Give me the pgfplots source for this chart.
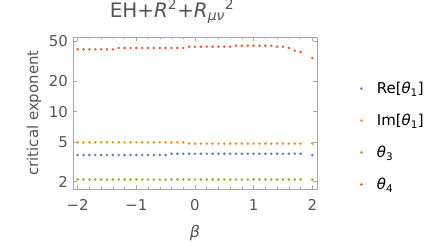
\documentclass[border=0pt]{standalone}
\usepackage{fontspec}
\setmainfont{DejaVu Sans}
\usepackage{pgfplots}
\pgfplotsset{compat=1.18}
\usepackage{pgfplotstable}
\definecolor{c1}{HTML}{5E81B5}
\definecolor{c2}{HTML}{E19C24}
\definecolor{c3}{HTML}{8FB032}
\definecolor{c4}{HTML}{EB6235}
\definecolor{framec}{HTML}{A8A8A8}
\definecolor{txt}{HTML}{555555}

\pgfplotstableread{
b re im t3 t4
-2.0 3.69 4.93 2.1 41.8
-1.9 3.69 4.93 2.1 41.8
-1.8 3.69 4.93 2.1 41.8
-1.7 3.69 4.93 2.1 41.8
-1.6 3.69 4.93 2.1 41.8
-1.5 3.69 4.93 2.1 41.8
-1.4 3.69 4.93 2.1 41.8
-1.3 3.69 4.93 2.1 43.1
-1.2 3.69 4.93 2.1 43.1
-1.1 3.69 4.93 2.1 43.1
-1.0 3.69 4.93 2.1 43.1
-0.9 3.69 4.93 2.1 43.1
-0.8 3.69 4.93 2.1 43.1
-0.7 3.69 4.93 2.1 43.1
-0.6 3.69 4.93 2.1 43.1
-0.5 3.69 4.93 2.1 43.1
-0.4 3.80 4.93 2.1 43.1
-0.3 3.80 4.93 2.1 43.1
-0.2 3.80 4.93 2.1 43.1
-0.1 3.80 4.80 2.1 44.4
0.0 3.80 4.80 2.1 44.4
0.1 3.80 4.80 2.1 44.4
0.2 3.80 4.80 2.1 44.4
0.3 3.80 4.80 2.1 44.4
0.4 3.80 4.80 2.1 44.4
0.5 3.80 4.80 2.1 44.4
0.6 3.80 4.80 2.1 44.4
0.7 3.80 4.80 2.1 45.4
0.8 3.80 4.80 2.1 45.4
0.9 3.80 4.80 2.1 45.4
1.0 3.80 4.80 2.1 45.4
1.1 3.80 4.80 2.1 45.4
1.2 3.80 4.80 2.1 45.4
1.3 3.80 4.80 2.1 45.4
1.4 3.80 4.80 2.1 44.4
1.5 3.80 4.80 2.1 44.4
1.6 3.80 4.80 2.1 43.1
1.7 3.80 4.80 2.1 40.5
1.8 3.80 4.80 2.1 39.3
2.0 3.69 4.80 2.1 34.2
}\data

\begin{document}
\begin{tikzpicture}
\useasboundingbox (0,0) rectangle (436bp,245bp);
\begin{axis}[
  at={(73bp,56bp)}, anchor=south west,
  scale only axis, width=244bp, height=152bp,
  ymode=log,
  xmin=-2.08, xmax=2.08, ymin=1.69, ymax=55.5,
  xtick={-2,-1,0,1,2}, xticklabels={−2,−1,0,1,2},
  minor x tick num=4,
  ytick={2,5,10,20,50}, yticklabels={2,5,10,20,50},
  yminorticks=false,
  tick align=inside,
  major tick length=4bp, minor tick length=2.2bp,
  axis line style={framec, line width=0.6bp},
  every tick/.style={framec, line width=0.5bp},
  tick label style={font=\fontsize{15}{18}\selectfont, text=txt, inner sep=0pt},
  xticklabel shift=10bp, yticklabel shift=5bp,
  xlabel={\itshape β},
  xlabel style={at={(axis description cs:0.5,-0.2895)}, anchor=center, font=\fontsize{16}{19}\selectfont, text=txt},
  ylabel={critical exponent},
  ylabel style={at={(axis description cs:-0.16,0.5)}, anchor=center, font=\fontsize{15}{18}\selectfont, text=txt},
  title={EH+\textit{R}\textsuperscript{2}+\textit{R}\textsubscript{\itshape μν}\textsuperscript{2}},
  title style={at={(axis description cs:0.406,1)}, anchor=base, yshift=14bp, font=\fontsize{20}{24}\selectfont, text=txt},
  legend style={draw=none, fill=none, at={(axis description cs:1.163,0.345)}, anchor=west,
    font=\fontsize{15}{18}\selectfont, text=black, row sep=19bp,
    nodes={inner sep=0pt}},
  legend cell align=left,
  legend image code/.code={\draw[#1] plot coordinates {(0bp,0bp)};},
  /tikz/every odd column/.append style={column sep=14bp},
  every axis plot/.append style={only marks, mark=*, mark size=1.45bp, mark options={draw opacity=0}},
]
\addplot[c1] table[x=b,y=re]{\data};
\addlegendentry{Re[\textit{θ}\textsubscript{1}]}
\addplot[c2] table[x=b,y=im]{\data};
\addlegendentry{Im[\textit{θ}\textsubscript{1}]}
\addplot[c3] table[x=b,y=t3]{\data};
\addlegendentry{\textit{θ}\textsubscript{3}}
\addplot[c4] table[x=b,y=t4]{\data};
\addlegendentry{\textit{θ}\textsubscript{4}}
\end{axis}
\end{tikzpicture}
\end{document}
